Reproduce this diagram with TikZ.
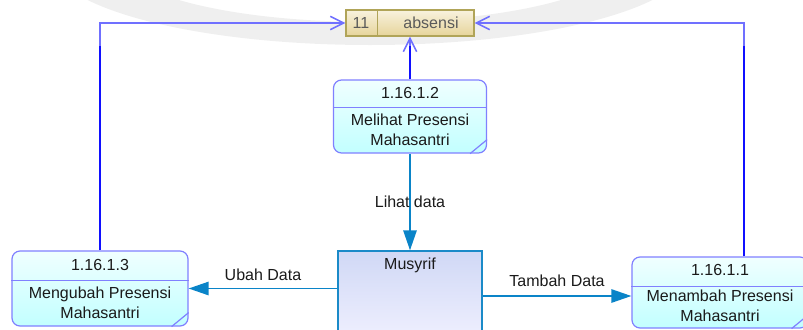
\documentclass[tikz,border=0pt]{standalone}
\usepackage{fontspec}
\setmainfont{Liberation Sans}
\usetikzlibrary{positioning, calc, arrows.meta}
\definecolor{ink}{HTML}{1A1A1A}
\definecolor{storeink}{HTML}{5A5A5A}
\definecolor{procline}{HTML}{8080FF}
\definecolor{proctop}{HTML}{F0FFFF}
\definecolor{procbot}{HTML}{C2FFFF}
\definecolor{entline}{HTML}{1A8AC8}
\definecolor{enttop}{HTML}{D0D8F5}
\definecolor{entbot}{HTML}{F0F0FF}
\definecolor{storeline}{HTML}{B0A458}
\definecolor{storetop}{HTML}{F8F2DE}
\definecolor{storebot}{HTML}{E6D49A}
\definecolor{flowc}{HTML}{0A84C8}
\definecolor{linkc}{HTML}{1010FF}
\definecolor{linksoft}{HTML}{7070FF}
\definecolor{wmark}{HTML}{EFEFEF}
\newcommand{\DfdF}{\fontsize{12}{15}\selectfont}

\tikzset{
  procbox/.style={draw=procline, line width=0.9pt, rounded corners=6pt,
    top color=proctop, bottom color=procbot, inner sep=0pt},
  entbox/.style={draw=entline, line width=1pt, top color=enttop,
    bottom color=entbot, inner sep=0pt},
  storebox/.style={draw=storeline, line width=0.9pt, top color=storetop,
    bottom color=storebot, inner sep=0pt},
  dfdtext/.style={font=\DfdF, text=ink, inner sep=0pt, align=center},
  dataflow/.style={draw=flowc, line width=1.3pt,
    -{Triangle[length=15pt, width=10pt]}},
  storeflow/.style={line width=1.2pt, -{Straight Barb[length=10pt, width=10pt]}},
}

\begin{document}
\begin{tikzpicture}[x=0.75pt, y=-0.75pt]
  \useasboundingbox (0,0) rectangle (803,329);

  % faint watermark band
  \begin{scope}
    \clip (0,0) rectangle (803,329);
    \fill[wmark, even odd rule]
      (370,-40) ellipse [x radius=240pt, y radius=63.75pt]
      (370,-40) ellipse [x radius=187.5pt, y radius=46.5pt];
  \end{scope}

  % data store
  \node[storebox, minimum width=96pt, minimum height=19.5pt] (st) at (410,23) {};
  \draw[storeline, line width=0.9pt] ($(st.north west)+(32,0)$) -- ($(st.south west)+(32,0)$);
  \node[dfdtext, text=storeink] (stid) at (361,23) {11};
  \node[dfdtext, text=storeink] (stname) at (431,23) {absensi};

  % processes
  \node[procbox, minimum width=114.75pt, minimum height=54.75pt] (p2) at (410,116.5) {};
  \node[procbox, minimum width=132pt, minimum height=56.25pt] (p3) at (100,288.5) {};
  \node[procbox, minimum width=132pt, minimum height=53.25pt] (p1) at (720,292.5) {};
  \foreach \p/\h in {p2/28, p3/30, p1/30} {
    \draw[procline, line width=0.9pt] ($(\p.north west)+(0,\h)$) -- ($(\p.north east)+(0,\h)$);
    \draw[procline, line width=0.9pt] ($(\p.south east)+(0,-14)$) -- ($(\p.south east)+(-17,0)$);
  }
  \node[dfdtext] (p2id) at ($(p2.north)+(0,14)$) {1.16.1.2};
  \node[dfdtext] (p2lbl) at ($(p2.north)+(0,50)$) {Melihat Presensi\\Mahasantri};
  \node[dfdtext] (p3id) at ($(p3.north)+(0,15)$) {1.16.1.3};
  \node[dfdtext] (p3lbl) at ($(p3.north)+(0,52)$) {Mengubah Presensi\\Mahasantri};
  \node[dfdtext] (p1id) at ($(p1.north)+(0,14)$) {1.16.1.1};
  \node[dfdtext] (p1lbl) at ($(p1.north)+(0,49.5)$) {Menambah Presensi\\Mahasantri};

  % external entity
  \node[entbox, minimum width=108pt, minimum height=67.5pt] (ent) at (410,296) {};
  \node[dfdtext] (entlbl) at ($(ent.north)+(0,15)$) {Musyrif};

  % flows to the store
  \coordinate (linkrow) at (0,46);
  \coordinate (p1up) at ($(p1.north)+(24,0)$);
  \draw[linkc, line width=1.2pt] (p2.north) -- (p2.north |- linkrow);
  \draw[storeflow, linksoft] (p2.north |- linkrow) -- (st.south);
  \draw[linkc, line width=1.2pt] (p3.north) -- (p3.north |- linkrow);
  \draw[storeflow, linksoft] (p3.north |- linkrow) |- (st.west);
  \draw[linkc, line width=1.2pt] (p1up) -- (p1up |- linkrow);
  \draw[storeflow, linksoft] (p1up |- linkrow) |- (st.east);

  % data flows
  \draw[dataflow] (p2.south) -- node[dfdtext] {Lihat data} (ent.north);
  \draw[dataflow] (ent.west |- p3.east) -- node[dfdtext, above=5pt] {Ubah Data} (p3.east);
  \draw[dataflow] (ent.east) -- node[dfdtext, above=6pt] {Tambah Data} (ent.east -| p1.west);
\end{tikzpicture}
\end{document}
